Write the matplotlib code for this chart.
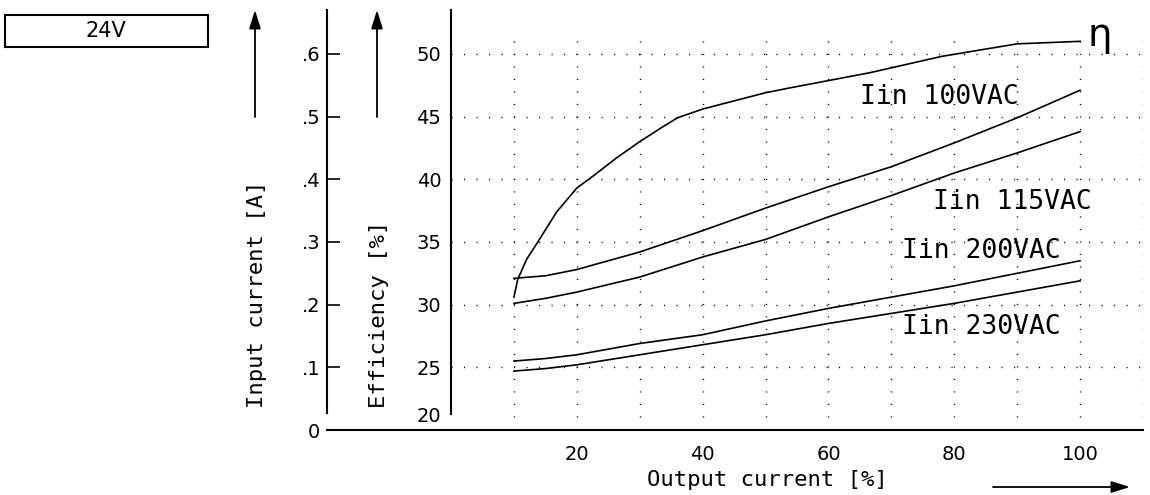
import matplotlib
matplotlib.use("Agg")
import matplotlib.pyplot as plt
import matplotlib.patches as mpatches

mono = "DejaVu Sans Mono"

# output current [%]
load = [10, 15, 20, 30, 40, 50, 60, 70, 80, 90, 100]

# input current [A]
iin_100 = [0.242, 0.246, 0.256, 0.284, 0.318, 0.354, 0.388, 0.420, 0.458, 0.498, 0.542]
iin_115 = [0.202, 0.210, 0.220, 0.244, 0.276, 0.304, 0.340, 0.374, 0.410, 0.442, 0.476]
iin_200 = [0.110, 0.114, 0.120, 0.138, 0.152, 0.174, 0.194, 0.212, 0.230, 0.250, 0.270]
iin_230 = [0.094, 0.098, 0.104, 0.120, 0.136, 0.152, 0.170, 0.186, 0.202, 0.220, 0.238]

# efficiency [%]
eff_load = [10, 10.6, 12, 13.8, 16.8, 20, 22.7, 26.3, 30, 33.4, 36, 40, 50, 54, 66.6, 78, 90, 100]
eff = [30.6, 32.0, 33.6, 35.0, 37.4, 39.3, 40.3, 41.7, 43.0, 44.1, 44.9, 45.6, 46.9, 47.3, 48.5, 49.8, 50.8, 51.0]

x_ticks = [20, 40, 60, 80, 100]
eff_ticks = [20, 25, 30, 35, 40, 45, 50]
amp_ticks = [0, 0.1, 0.2, 0.3, 0.4, 0.5, 0.6]
amp_labels = ["0", ".1", ".2", ".3", ".4", ".5", ".6"]

curve_labels = ["Iin 100VAC", "Iin 115VAC", "Iin 200VAC", "Iin 230VAC"]

fig = plt.figure(figsize=(11.5, 4.95), dpi=100)
ax = fig.add_axes([0.3922, 0.1313, 0.6017, 0.8485])
ax.set_xlim(0, 110)
ax.set_ylim(20, 53.5)

# dotted grid
dots = dict(color="black", linewidth=1.0, linestyle=(0, (0.8, 8.2)))
ax.vlines(range(10, 111, 10), 21.0, 51.8, **dots)
ax.hlines(eff_ticks[1:], 0, 110.5, clip_on=False, **dots)

for s in ["top", "right", "bottom"]:
    ax.spines[s].set_visible(False)
ax.spines["left"].set_linewidth(1.5)
ax.spines["left"].set_bounds(21.3, 53.5)
ax.axhline(20, xmin=-0.179, xmax=1.0, color="black", linewidth=1.5, clip_on=False)

ax.set_xticks(x_ticks)
ax.set_xticklabels([str(v) for v in x_ticks], fontsize=14)
ax.tick_params(axis="x", length=0, pad=11)
# lowest label sits slightly above the axis line in the original
ax.set_yticks([21.2] + eff_ticks[1:])
ax.set_yticklabels([str(v) for v in eff_ticks], fontsize=14)
ax.tick_params(axis="y", length=0, pad=7)

ax.plot(eff_load, eff, color="black", linewidth=1.2)

# input current axis, same height scale (0.6 A <-> 50 %)
ax2 = ax.twinx()
ax2.set_ylim(0, (53.5 - 20) / 50)
for s in ["top", "right", "bottom"]:
    ax2.spines[s].set_visible(False)
ax2.spines["left"].set_visible(True)
ax2.spines["left"].set_position(("axes", -0.179))
ax2.spines["left"].set_linewidth(1.5)
ax2.spines["left"].set_bounds(0.027, (53.5 - 20) / 50)
ax2.yaxis.set_ticks_position("left")
ax2.set_yticks(amp_ticks)
ax2.set_yticklabels(amp_labels, fontsize=14)
ax2.tick_params(axis="y", direction="in", length=9.5, width=1.2, pad=5)

for ys in [iin_100, iin_115, iin_200, iin_230]:
    ax2.plot(load, ys, color="black", linewidth=1.2)

label_pos = [(65.0, 46.6), (76.6, 38.2), (71.7, 34.3), (71.7, 28.2)]
for txt, (lx, ly) in zip(curve_labels, label_pos):
    ax.text(lx, ly, txt, fontsize=19, family=mono, ha="left", va="center")
ax.text(103.2, 51.5, "\u03b7", fontsize=28, ha="center", va="center", clip_on=False)

# axis titles and arrows
fig.text(257 / 1150, 1 - 408 / 495, "Input current [A]", rotation=90, family=mono,
         fontsize=16, ha="center", va="bottom")
fig.text(379 / 1150, 1 - 408 / 495, "Efficiency [%]", rotation=90, family=mono,
         fontsize=16, ha="center", va="bottom")
fig.text(767 / 1150, 1 - 480 / 495, "Output current [%]", family=mono,
         fontsize=16, ha="center", va="center")

arrow = dict(arrowstyle="-|>,head_length=0.8,head_width=0.25", mutation_scale=14,
             color="black", lw=1.3, shrinkA=0, shrinkB=0)
for ax_x in [255, 377]:
    fig.add_artist(mpatches.FancyArrowPatch((ax_x / 1150, 1 - 117 / 495), (ax_x / 1150, 1 - 10 / 495),
                                            transform=fig.transFigure, **arrow))
fig.add_artist(mpatches.FancyArrowPatch((993 / 1150, 1 - 487 / 495), (1130 / 1150, 1 - 487 / 495),
                                        transform=fig.transFigure, **arrow))

# voltage box
fig.add_artist(mpatches.Rectangle((5 / 1150, 1 - 47 / 495), 203 / 1150, 32 / 495,
                                  transform=fig.transFigure, fill=False, lw=1.5, ec="black"))
fig.text(106 / 1150, 1 - 31 / 495, "24V", fontsize=15, ha="center", va="center")

fig.savefig("out.png", dpi=100)
